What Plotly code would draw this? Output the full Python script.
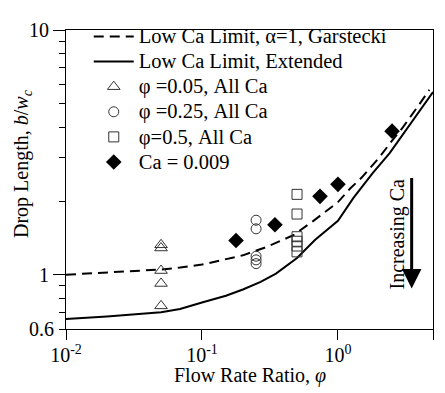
import plotly.graph_objects as go

# Curves
garstecki_x = [0.01, 0.02, 0.05, 0.069, 0.1, 0.2, 0.3, 0.47, 0.66, 1.0, 1.23, 1.5, 2.0, 2.42, 3.0, 4.0, 4.7]
garstecki_y = [1.0, 1.02, 1.05, 1.07, 1.1, 1.2, 1.3, 1.45, 1.66, 1.98, 2.25, 2.5, 3.0, 3.45, 4.0, 5.0, 5.7]

extended_x = [0.01, 0.02, 0.05, 0.069, 0.1, 0.15, 0.2, 0.27, 0.35, 0.5, 0.68, 1.0, 1.3, 1.8, 2.4, 3.4, 5.0]
extended_y = [0.66, 0.675, 0.702, 0.724, 0.77, 0.82, 0.87, 0.935, 1.01, 1.17, 1.39, 1.66, 2.06, 2.6, 3.14, 4.12, 5.58]

# Experimental points
tri_x = [0.05, 0.05, 0.05, 0.05, 0.05]
tri_y = [1.325, 1.286, 1.04, 0.921, 0.746]

circ_x = [0.25, 0.25, 0.25, 0.25, 0.25]
circ_y = [1.67, 1.54, 1.19, 1.15, 1.11]

sq_x = [0.5, 0.5, 0.5, 0.5, 0.5, 0.5]
sq_y = [2.13, 1.77, 1.43, 1.37, 1.31, 1.24]

dia_x = [0.178, 0.344, 0.738, 1.0, 2.5]
dia_y = [1.38, 1.60, 2.09, 2.34, 3.86]

x_tickvals = [0.01, 0.1, 1, 5]
x_ticktext = ["10<sup>-2</sup>", "10<sup>-1</sup>", "10<sup>0</sup>", "5x10<sup>0</sup>"]
y_tickvals = [1, 10]
y_ticktext = ["1", "10"]
y_minor = [0.6, 0.7, 0.8, 0.9, 2, 3, 4, 5, 6, 7, 8, 9]

legend_names = ["Low Ca Limit, α=1, Garstecki", "Low Ca Limit, Extended",
                "φ =0.05, All Ca", "φ =0.25, All Ca", "φ=0.5, All Ca", "Ca = 0.009"]

FONT = "Liberation Serif, Times New Roman, serif"
FS = 20
mk_line = dict(color="#333333", width=1)


def lg(name):
    return '<span style="font-size:20.5px">' + name + '</span>'


fig = go.Figure()
fig.add_trace(go.Scatter(x=garstecki_x, y=garstecki_y, mode="lines",
                         name=lg(legend_names[0]),
                         line=dict(color="black", width=2, dash="10px,6px")))
fig.add_trace(go.Scatter(x=extended_x, y=extended_y, mode="lines",
                         name=lg(legend_names[1]),
                         line=dict(color="black", width=2)))
fig.add_trace(go.Scatter(x=tri_x, y=tri_y, mode="markers", name=lg(legend_names[2]),
                         marker=dict(symbol="triangle-up-open", size=11, line=mk_line, color="#333333")))
fig.add_trace(go.Scatter(x=circ_x, y=circ_y, mode="markers", name=lg(legend_names[3]),
                         marker=dict(symbol="circle-open", size=10, line=mk_line, color="#333333")))
fig.add_trace(go.Scatter(x=sq_x, y=sq_y, mode="markers", name=lg(legend_names[4]),
                         marker=dict(symbol="square-open", size=10, line=mk_line, color="#333333")))
fig.add_trace(go.Scatter(x=dia_x, y=dia_y, mode="markers", name=lg(legend_names[5]),
                         marker=dict(symbol="diamond", size=12, color="black")))

# "Increasing Ca" arrow and label
fig.add_annotation(x=0.542, y=-0.0564, xref="x", yref="y", ax=0, ay=-112,
                   showarrow=True, arrowhead=2, arrowsize=1.3,
                   arrowwidth=3, arrowcolor="black", text="")
fig.add_annotation(x=0.441, y=0.168, xref="x", yref="y", text="Increasing Ca",
                   textangle=-90, showarrow=False,
                   font=dict(family=FONT, size=FS, color="black"))
# Tick label 0.6 (bottom of y range)
fig.add_annotation(x=0, y=0, xref="paper", yref="paper", text="0.6",
                   xanchor="right", yanchor="middle", xshift=-10, showarrow=False,
                   font=dict(family=FONT, size=FS, color="black"))
# Axis titles
fig.add_annotation(x=0.5, y=-0.156, xref="paper", yref="paper",
                   text="Flow Rate Ratio, <i>φ</i>", showarrow=False,
                   xanchor="center", yanchor="middle",
                   font=dict(family=FONT, size=FS, color="black"))
fig.add_annotation(x=-0.12, y=0.555, xref="paper", yref="paper",
                   text="Drop Length, <i>b</i>/<i>w</i><sub><i>c</i></sub>", showarrow=False,
                   textangle=-90, xanchor="center", yanchor="middle",
                   font=dict(family=FONT, size=FS, color="black"))

fig.update_layout(
    width=437, height=385,
    margin=dict(l=58, r=12, t=11, b=64),
    paper_bgcolor="white", plot_bgcolor="white",
    font=dict(family=FONT, size=FS, color="black"),
    showlegend=True,
    legend=dict(x=0.062, y=1.037, xanchor="left", yanchor="top",
                bgcolor="rgba(0,0,0,0)", font=dict(family=FONT, size=17),
                tracegroupgap=0, itemwidth=40),
)
fig.update_xaxes(type="log", range=[-2, 0.69897], tickvals=x_tickvals, ticktext=x_ticktext,
                 ticks="outside", ticklen=10, tickwidth=1, tickcolor="black",
                 ticklabelstandoff=-2,
                 showline=True, linecolor="black", linewidth=1, mirror=True,
                 showgrid=False, zeroline=False, automargin=False,
                 tickfont=dict(family=FONT, size=FS))
fig.update_yaxes(type="log", range=[-0.2218, 1], tickvals=y_tickvals, ticktext=y_ticktext,
                 ticks="outside", ticklen=12, tickwidth=1, tickcolor="black",
                 minor=dict(tickvals=y_minor, ticks="outside", ticklen=6, tickcolor="black", tickwidth=1),
                 showline=True, linecolor="black", linewidth=1, mirror=True,
                 showgrid=False, zeroline=False, automargin=False,
                 tickfont=dict(family=FONT, size=FS))

fig.write_html("out.html")
